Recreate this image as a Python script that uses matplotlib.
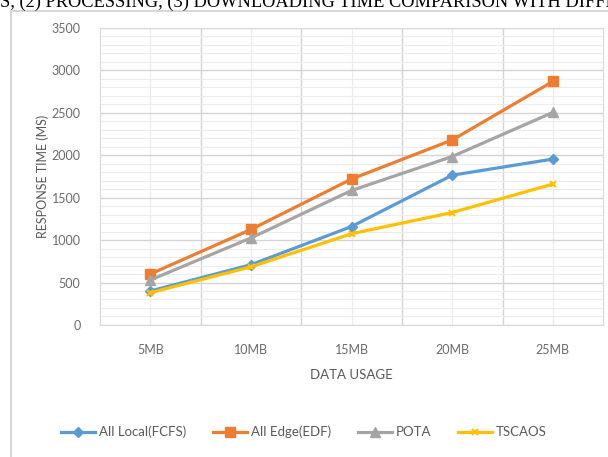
import matplotlib.pyplot as plt
import numpy as np
from matplotlib.ticker import MultipleLocator

# data usage vs response time
sizes = ['5MB', '10MB', '15MB', '20MB', '25MB']
local_fcfs = [400, 710, 1160, 1765, 1955]
edge_edf = [600, 1125, 1720, 2180, 2870]
pota = [530, 1025, 1585, 1985, 2505]
tscaos = [380, 685, 1075, 1325, 1660]

plt.rcParams['font.family'] = ['Lato', 'DejaVu Sans']

fig = plt.figure(figsize=(6.08, 4.57), dpi=100)
ax = fig.add_axes([0.1645, 0.289, 0.8275, 0.6497])

# caption of the page above, cut by the figure edge
fig.text(0.0, 0.9845, 'S, (2) PROCESSING, (3) DOWNLOADING TIME COMPARISON WITH DIFFE',
         family='Liberation Serif', fontsize=13.2, va='baseline', ha='left', color='black')

# chart frame
frame = plt.Rectangle((0.018, -0.05), 1.2, 1.027, transform=fig.transFigure,
                      fill=False, edgecolor='#d0d0d0', linewidth=1.2)
fig.add_artist(frame)

x = np.arange(len(sizes)) + 0.5
ax.plot(x, local_fcfs, color='#5B9BD5', lw=2.3, marker='D', ms=5.5, label='All Local(FCFS)')
ax.plot(x, edge_edf, color='#ED7D31', lw=2.3, marker='s', ms=7.5, label='All Edge(EDF)')
ax.plot(x, pota, color='#A5A5A5', lw=2.3, marker='^', ms=7.5, label='POTA')
ax.plot(x, tscaos, color='#FFC000', lw=2.3, marker='x', ms=5, mew=1.5, label='TSCAOS')

ax.set_xlim(0, len(sizes))
ax.set_ylim(0, 3500)
ax.set_xticks(x)
ax.set_xticklabels(sizes)
ax.xaxis.set_minor_locator(MultipleLocator(0.5))
ax.yaxis.set_major_locator(MultipleLocator(500))
ax.yaxis.set_minor_locator(MultipleLocator(100))

ax.grid(True, which='major', axis='y', color='#d4d4d4', lw=1.0)
ax.grid(True, which='minor', axis='y', color='#ececec', lw=0.8)
ax.vlines(np.arange(1, len(sizes)), 0, 3500, color='#d4d4d4', lw=1.0, zorder=0.5)
ax.vlines(x, 0, 3500, color='#ececec', lw=0.8, zorder=0.4)
ax.set_axisbelow(True)

for s in ax.spines.values():
    s.set_color('#d9d9d9')
ax.tick_params(which='both', length=0, colors='#6b6b6b', labelsize=9)
ax.tick_params(axis='x', pad=14)
ax.tick_params(axis='y', pad=14)

ax.set_xlabel('DATA USAGE', color='#595959', fontsize=9.5, labelpad=9)
ax.set_ylabel('RESPONSE TIME (MS)', color='#595959', fontsize=9, labelpad=2)

fig.legend(loc='center', bbox_to_anchor=(0.5, 0.055), ncol=4, frameon=False,
           fontsize=9.5, labelcolor='#595959', handlelength=2.6, columnspacing=2.0,
           handletextpad=0.3)

fig.savefig('out.png', dpi=100)
